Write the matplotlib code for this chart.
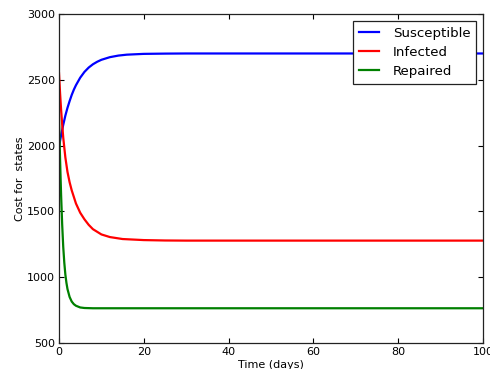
import matplotlib
matplotlib.use("Agg")
import matplotlib.pyplot as plt

# Time points (days) and read-off values for each state
t_s = [0, 0.5, 1, 1.5, 2, 2.5, 3, 3.5, 4, 5, 6, 7, 8, 9, 10, 12, 14, 16, 20, 25, 30, 40, 60, 80, 100]
susceptible = [1990, 2080, 2158, 2228, 2287, 2338, 2385, 2425, 2459, 2516, 2560, 2593,
               2618, 2637, 2652, 2672, 2684, 2691, 2697, 2699, 2700, 2700, 2700, 2700, 2700]

t_i = [0, 0.25, 0.5, 0.75, 1, 1.5, 2, 2.5, 3, 4, 5, 6, 7, 8, 10, 12, 15, 20, 25, 30, 40, 60, 80, 100]
infected = [2550, 2400, 2270, 2160, 2060, 1910, 1800, 1722, 1660, 1560, 1490, 1440,
            1398, 1365, 1325, 1305, 1290, 1282, 1279, 1278, 1278, 1278, 1278, 1278]

t_r = [0, 0.125, 0.25, 0.375, 0.5, 0.75, 1, 1.25, 1.5, 1.75, 2, 2.5, 3, 3.5, 4, 5, 6, 8, 10, 20, 40, 60, 80, 100]
repaired = [2220, 2060, 1900, 1755, 1620, 1400, 1230, 1110, 1020, 958, 910, 850, 815,
            795, 783, 770, 766, 764, 764, 764, 764, 764, 764, 764]

labels = ["Susceptible", "Infected", "Repaired"]
colors = ["#0000ff", "#ff0000", "#008000"]
xticks = [0, 20, 40, 60, 80, 100]
yticks = [500, 1000, 1500, 2000, 2500, 3000]

fig = plt.figure(figsize=(4.9, 3.69), dpi=100)
ax = fig.add_axes([59 / 490, 1 - 343 / 369, (483 - 59) / 490, (343 - 14) / 369])

ax.plot(t_s, susceptible, color=colors[0], lw=1.6, label=labels[0])
ax.plot(t_i, infected, color=colors[1], lw=1.6, label=labels[1])
ax.plot(t_r, repaired, color=colors[2], lw=1.6, label=labels[2])

ax.set_xlim(0, 100)
ax.set_ylim(500, 3000)
ax.set_xticks(xticks)
ax.set_yticks(yticks)
ax.tick_params(direction="in", top=True, right=True, length=3.5, width=0.8,
               labelsize=8, pad=3)
for s in ax.spines.values():
    s.set_linewidth(0.9)
    s.set_color("#222222")

ax.set_xlabel("Time (days)", fontsize=8, labelpad=2)
ax.set_ylabel("Cost for  states", fontsize=8, labelpad=1)

leg = ax.legend(loc="upper right", fontsize=9.6, fancybox=False, framealpha=1,
                edgecolor="#222222", handlelength=1.5, handletextpad=1.0,
                labelspacing=0.45, borderaxespad=0.5, borderpad=0.45)
leg.get_frame().set_linewidth(0.9)

fig.savefig("out.png", dpi=100)
